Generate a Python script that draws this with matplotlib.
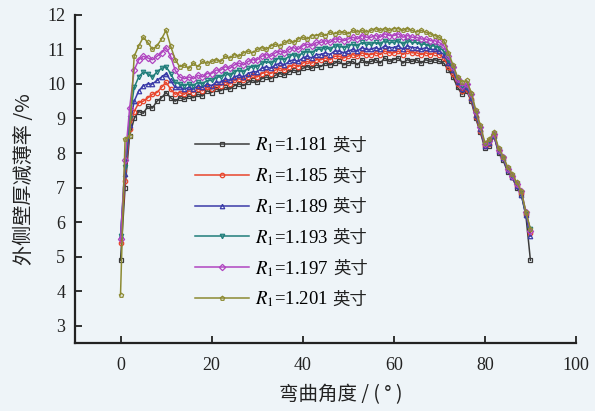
import matplotlib
matplotlib.use("Agg")
import matplotlib.pyplot as plt

plt.rcParams['font.family'] = ['Liberation Serif', 'Noto Sans CJK SC', 'DejaVu Sans']
plt.rcParams['mathtext.fontset'] = 'stix'

angle = list(range(0, 91))

r1181 = [4.9, 7.0, 8.5, 9.0, 9.2, 9.15, 9.35, 9.3, 9.5, 9.6,
         9.75, 9.6, 9.5, 9.6, 9.55, 9.65, 9.6, 9.7, 9.65, 9.8,
         9.75, 9.85, 9.8, 9.9, 9.85, 9.95, 10.0, 9.95, 10.05, 10.1,
         10.05, 10.15, 10.2, 10.15, 10.25, 10.3, 10.25, 10.35, 10.4, 10.35,
         10.45, 10.5, 10.45, 10.55, 10.5, 10.6, 10.55, 10.6, 10.65, 10.55,
         10.6, 10.65, 10.55, 10.7, 10.6, 10.65, 10.7, 10.6, 10.75, 10.65,
         10.7, 10.75, 10.6, 10.7, 10.65, 10.7, 10.6, 10.7, 10.65, 10.7,
         10.65, 10.6, 10.4, 10.2, 9.9, 9.7, 9.8, 9.5, 9.0, 8.6,
         8.15, 8.2, 8.5, 8.0, 7.8, 7.45, 7.3, 7.0, 6.8, 6.2, 4.9]

r1185 = [5.4, 7.2, 8.7, 9.2, 9.45, 9.5, 9.6, 9.7, 9.75, 9.9,
         10.05, 9.85, 9.7, 9.75, 9.7, 9.8, 9.75, 9.85, 9.8, 9.9,
         9.85, 9.95, 9.95, 10.05, 10.0, 10.1, 10.15, 10.1, 10.2, 10.25,
         10.2, 10.3, 10.35, 10.3, 10.4, 10.45, 10.4, 10.5, 10.55, 10.5,
         10.6, 10.65, 10.6, 10.7, 10.7, 10.75, 10.7, 10.8, 10.8, 10.75,
         10.8, 10.85, 10.8, 10.9, 10.85, 10.85, 10.9, 10.85, 10.95, 10.9,
         10.9, 10.95, 10.85, 10.95, 10.9, 10.9, 10.85, 10.9, 10.85, 10.9,
         10.85, 10.75, 10.5, 10.3, 10.0, 9.8, 9.85, 9.55, 9.05, 8.65,
         8.2, 8.25, 8.5, 8.05, 7.85, 7.5, 7.3, 7.05, 6.85, 6.25, 5.7]

r1189 = [5.6, 7.4, 8.8, 9.5, 9.8, 9.95, 10.0, 10.0, 10.1, 10.2,
         10.3, 10.1, 9.9, 9.9, 9.85, 9.9, 9.85, 9.95, 9.9, 10.0,
         9.95, 10.05, 10.05, 10.15, 10.1, 10.2, 10.25, 10.2, 10.3, 10.35,
         10.35, 10.45, 10.5, 10.45, 10.55, 10.6, 10.55, 10.65, 10.7, 10.65,
         10.75, 10.8, 10.75, 10.85, 10.85, 10.9, 10.85, 10.95, 10.95, 10.9,
         10.95, 11.0, 10.95, 11.05, 11.0, 11.0, 11.05, 11.0, 11.1, 11.05,
         11.05, 11.1, 11.0, 11.1, 11.05, 11.05, 11.0, 11.05, 11.0, 11.0,
         10.95, 10.85, 10.6, 10.4, 10.05, 9.85, 9.9, 9.6, 9.1, 8.7,
         8.2, 8.3, 8.5, 8.05, 7.85, 7.5, 7.3, 7.05, 6.8, 6.2, 5.6]

r1193 = [5.6, 7.6, 9.0, 9.9, 10.2, 10.35, 10.3, 10.2, 10.35, 10.45,
         10.5, 10.3, 10.05, 10.0, 9.95, 10.0, 9.95, 10.05, 10.0, 10.1,
         10.1, 10.2, 10.2, 10.3, 10.25, 10.35, 10.4, 10.35, 10.45, 10.5,
         10.5, 10.6, 10.65, 10.6, 10.7, 10.75, 10.7, 10.8, 10.85, 10.8,
         10.9, 10.95, 10.9, 11.0, 11.0, 11.05, 11.0, 11.1, 11.1, 11.05,
         11.1, 11.15, 11.1, 11.2, 11.15, 11.15, 11.2, 11.15, 11.25, 11.2,
         11.2, 11.25, 11.15, 11.25, 11.2, 11.2, 11.15, 11.15, 11.1, 11.1,
         11.05, 10.95, 10.7, 10.45, 10.1, 9.9, 9.95, 9.65, 9.15, 8.7,
         8.25, 8.3, 8.55, 8.1, 7.85, 7.55, 7.35, 7.1, 6.85, 6.25, 5.8]

r1197 = [5.5, 7.8, 9.3, 10.4, 10.7, 10.8, 10.75, 10.7, 10.8, 10.9,
         11.05, 10.8, 10.4, 10.2, 10.15, 10.2, 10.15, 10.25, 10.2, 10.3,
         10.3, 10.4, 10.4, 10.5, 10.45, 10.55, 10.6, 10.55, 10.65, 10.7,
         10.7, 10.8, 10.85, 10.8, 10.9, 10.95, 10.9, 11.0, 11.05, 11.0,
         11.1, 11.15, 11.1, 11.2, 11.2, 11.25, 11.2, 11.3, 11.3, 11.25,
         11.3, 11.35, 11.3, 11.4, 11.35, 11.35, 11.4, 11.35, 11.45, 11.4,
         11.4, 11.45, 11.35, 11.4, 11.35, 11.35, 11.3, 11.3, 11.25, 11.25,
         11.2, 11.1, 10.8, 10.5, 10.15, 9.95, 10.0, 9.7, 9.2, 8.75,
         8.25, 8.35, 8.55, 8.1, 7.9, 7.55, 7.35, 7.1, 6.9, 6.3, 5.75]

r1201 = [3.9, 8.4, 8.5, 10.8, 11.1, 11.35, 11.2, 11.0, 11.1, 11.3,
         11.55, 11.1, 10.7, 10.5, 10.55, 10.45, 10.6, 10.5, 10.65, 10.6,
         10.65, 10.7, 10.65, 10.8, 10.75, 10.85, 10.8, 10.9, 10.95, 10.9,
         11.0, 11.05, 11.0, 11.1, 11.15, 11.1, 11.2, 11.25, 11.2, 11.3,
         11.35, 11.3, 11.4, 11.4, 11.45, 11.4, 11.5, 11.45, 11.5, 11.5,
         11.45, 11.55, 11.5, 11.55, 11.5, 11.55, 11.6, 11.55, 11.6, 11.55,
         11.6, 11.6, 11.55, 11.6, 11.55, 11.5, 11.55, 11.5, 11.45, 11.4,
         11.35, 11.25, 10.9, 10.55, 10.2, 10.05, 10.1, 9.75, 9.25, 8.8,
         8.3, 8.4, 8.6, 8.15, 7.9, 7.6, 7.4, 7.15, 6.9, 6.3, 5.8]

series_values = [r1181, r1185, r1189, r1193, r1197, r1201]
series_labels = ['$R_1$=1.181', '$R_1$=1.185', '$R_1$=1.189',
                 '$R_1$=1.193', '$R_1$=1.197', '$R_1$=1.201']
unit_label = '英寸'
colors = ['#3b3b3b', '#e8452c', '#3a3aa8', '#1f7d7a', '#b044c0', '#8c8a32']
markers = ['s', 'o', '^', 'v', 'D', 'p']

x_ticks = [0, 20, 40, 60, 80, 100]
y_ticks = [3, 4, 5, 6, 7, 8, 9, 10, 11, 12]

bg = '#eef4f8'
fig = plt.figure(figsize=(5.95, 4.11), dpi=100, facecolor=bg)
ax = fig.add_axes([0.126, 0.165, 0.842, 0.799])
ax.set_facecolor(bg)

for vals, lab, c, m in zip(series_values, series_labels, colors, markers):
    ax.plot(angle, vals, color=c, lw=1.1, marker=m, ms=3.2, mfc='none',
            mew=0.9, label=lab)

ax.set_xlim(-10, 100)
ax.set_ylim(2.5, 12)
ax.set_xticks(x_ticks)
ax.set_yticks(y_ticks)
for s in ['top', 'right']:
    ax.spines[s].set_visible(False)
for s in ['left', 'bottom']:
    ax.spines[s].set_linewidth(1.6)
    ax.spines[s].set_color('#222222')
ax.tick_params(direction='in', length=5, width=1.3, labelsize=13,
               colors='#222222')
ax.tick_params(axis='x', pad=10)
ax.tick_params(axis='y', pad=7)

ax.set_xlabel('弯曲角度 / ( ° )', fontsize=14, labelpad=6,
              family=['Noto Sans CJK SC', 'DejaVu Sans'], color='#222222')
ax.xaxis.set_label_coords(0.53, -0.125)
ax.set_ylabel('外侧壁厚减薄率 /%', fontsize=14.5, labelpad=4,
              family=['Noto Sans CJK SC', 'DejaVu Sans'], color='#222222')
ax.yaxis.set_label_coords(-0.08, 0.5)

leg = ax.legend(loc='upper left', bbox_to_anchor=(0.205, 0.683), frameon=False,
                handlelength=2.9, labelspacing=0.59, handletextpad=0.3,
                prop={'family': 'Liberation Serif', 'size': 13.5})

fig.canvas.draw()
renderer = fig.canvas.get_renderer()
inv = fig.transFigure.inverted()
for t in leg.get_texts():
    bb = t.get_window_extent(renderer)
    x0, y0 = inv.transform((bb.x1 + 5, (bb.y0 + bb.y1) / 2))
    fig.text(x0, y0, unit_label, fontsize=12.5, va='center', ha='left',
             family=['Noto Sans CJK SC', 'DejaVu Sans'], color='#222222')

fig.savefig('out.png', dpi=100, facecolor=bg)
